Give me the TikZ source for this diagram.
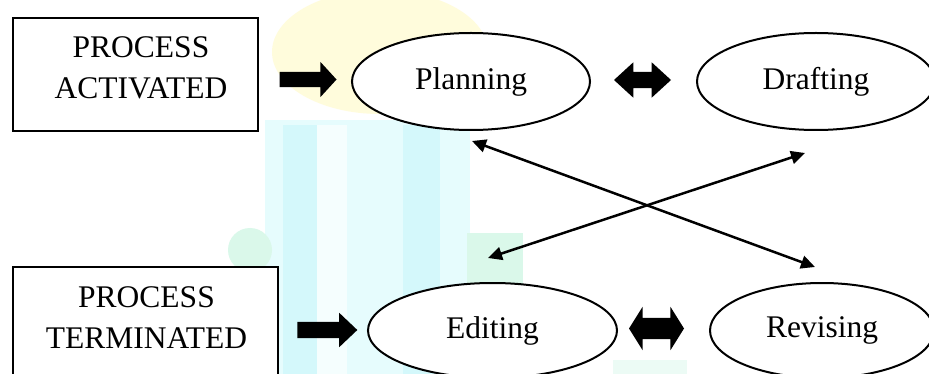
\documentclass[tikz,border=0pt]{standalone}
\usepackage{fontspec}
\setmainfont{Liberation Serif}
\usetikzlibrary{shapes.geometric,shapes.arrows,arrows.meta}
\definecolor{wmyellow}{RGB}{255,252,220}
\definecolor{wmcyan}{RGB}{230,252,253}
\definecolor{wmcyandk}{RGB}{212,248,251}
\definecolor{wmgreen}{RGB}{218,248,234}
\begin{document}
\begin{tikzpicture}[x=1pt,y=-1pt,
  every node/.style={font=\fontsize{31.5}{41}\selectfont},
  procbox/.style={draw, line width=2pt, rectangle, inner sep=0pt, fill=white},
  stage/.style={draw, line width=2pt, ellipse, inner sep=0pt, fill=white},
  blockr/.style={single arrow, fill=black, inner xsep=0pt, single arrow head indent=0pt},
  blockd/.style={double arrow, fill=black, inner xsep=0pt, double arrow head indent=0pt},
  link/.style={line width=2.5pt, {Triangle[length=14pt,width=13pt]}-{Triangle[length=14pt,width=13pt]}},
]
\clip (0,0) rectangle (929,374);
\fill[white] (0,0) rectangle (929,374);
% faint watermark
\fill[wmyellow] (380,52) ellipse [x radius=108, y radius=62];
\fill[wmcyan] (265,120) rectangle (470,374);
\fill[white!60!wmcyan] (317,125) rectangle (347,374);
\fill[wmcyandk] (283,125) rectangle (317,374);
\fill[wmcyandk] (403,125) rectangle (440,374);
\fill[wmgreen] (250,250) ellipse [x radius=22, y radius=22];
\fill[wmgreen] (467,233) rectangle (523,290);
\fill[white!50!wmgreen] (613,360) rectangle (687,374);

% boxes
\node[procbox, minimum width=245, minimum height=113,
      label={[align=center, xshift=5.5pt, yshift=7pt]center:PROCESS\\ACTIVATED}]
      (act) at (135.5,74.5) {};
\node[procbox, minimum width=265, minimum height=113,
      label={[align=center, xshift=1pt, yshift=6pt]center:PROCESS\\TERMINATED}]
      (term) at (145.5,323.5) {};

% stages
\node[stage, minimum width=238, minimum height=97] (pl) at (471,81.5) {Planning};
\node[stage, minimum width=238, minimum height=97] (dr) at (816,81.5) {Drafting};
\node[stage, minimum width=249, minimum height=95] (ed) at (492.5,330.5) {Editing};
\node[stage, minimum width=224, minimum height=95] (rv) at (822,330.5) {Revising};

% block arrows
\node[blockr, minimum height=57, inner ysep=7.5pt, single arrow head extend=10pt,
      single arrow tip angle=95] (a1) at (304.5,79.5) {};
\node[blockd, minimum height=57, inner ysep=8pt, double arrow head extend=9.5pt,
      double arrow tip angle=85] (a2) at (642.5,80) {};
\node[blockr, minimum height=60, inner ysep=8pt, single arrow head extend=9pt,
      single arrow tip angle=87] (a3) at (323,330) {};
\node[blockd, minimum height=55, inner ysep=10.5pt, double arrow head extend=11pt,
      double arrow tip angle=116] (a4) at (656.5,328.5) {};

% crossing connectors
\coordinate (plb) at ([xshift=1pt,yshift=-10pt]pl.south);
\coordinate (rvt) at ([xshift=-7pt,yshift=15pt]rv.north);
\coordinate (drb) at ([xshift=-11pt,yshift=-22pt]dr.south);
\coordinate (edt) at ([xshift=-4.5pt,yshift=24pt]ed.north);
\draw[link] (plb) -- (rvt);
\draw[link] (drb) -- (edt);
\end{tikzpicture}
\end{document}
